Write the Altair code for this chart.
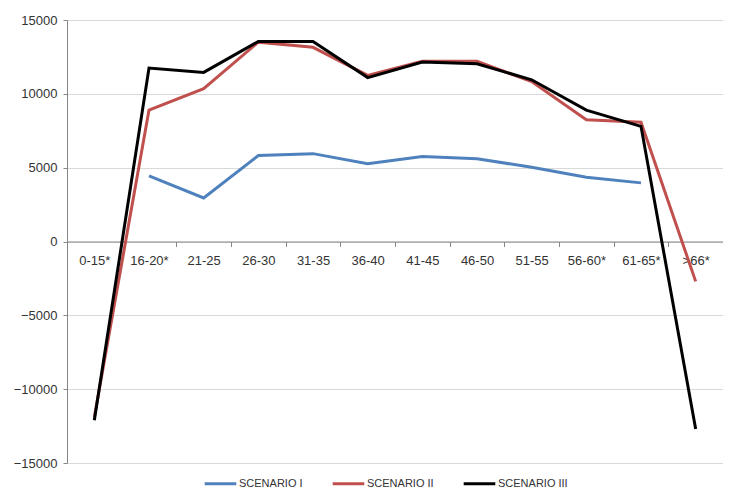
import altair as alt
import pandas as pd

categories = ["0-15*", "16-20*", "21-25", "26-30", "31-35", "36-40", "41-45",
              "46-50", "51-55", "56-60*", "61-65*", ">66*"]
scenario_1 = [None, 4450, 2950, 5820, 5950, 5260, 5750, 5600, 5030, 4350, 3970, None]
scenario_2 = [-11900, 8900, 10350, 13500, 13150, 11250, 12200, 12200, 10830, 8240, 8080, -2700]
scenario_3 = [-12100, 11750, 11450, 13550, 13550, 11100, 12150, 12030, 10950, 8900, 7800, -12700]
series_names = ["SCENARIO I", "SCENARIO II", "SCENARIO III"]
series_colors = ["#4F81BD", "#C0504D", "#000000"]
y_ticks = [-15000, -10000, -5000, 0, 5000, 10000, 15000]

rows = []
for name, vals in zip(series_names, [scenario_1, scenario_2, scenario_3]):
    for c, v in zip(categories, vals):
        if v is not None:
            rows.append({"age": c, "value": v, "series": name})
df = pd.DataFrame(rows)

W, H = 656, 443
font = "Liberation Sans"

chart = alt.Chart(df).mark_line(strokeWidth=3, strokeJoin="miter", strokeCap="butt").encode(
    x=alt.X("age:N", sort=categories, bandPosition=0.5,
            scale=alt.Scale(type="band", domain=categories, paddingInner=0, paddingOuter=0),
            axis=alt.Axis(title=None, labelAngle=0, offset=-H / 2, tickBand="extent",
                          domainColor="#868686", tickColor="#868686", tickSize=5,
                          labelPadding=8, labelFont=font, labelFontSize=13,
                          labelColor="#333333", grid=False, zindex=0)),
    y=alt.Y("value:Q", scale=alt.Scale(domain=[-15000, 15000], nice=False),
            axis=alt.Axis(title=None, values=y_ticks, format="d", domainColor="#868686",
                          tickColor="#868686", tickSize=4, labelPadding=6,
                          gridColor="#D9D9D9", labelFont=font, labelFontSize=13,
                          labelColor="#333333")),
    color=alt.Color("series:N", scale=alt.Scale(domain=series_names, range=series_colors),
                    legend=alt.Legend(title=None, orient="none", direction="horizontal",
                                      legendX=136, legendY=446, symbolType="stroke",
                                      symbolSize=1000, symbolStrokeWidth=3,
                                      labelOffset=1, columnPadding=23, padding=0,
                                      labelFont=font, labelFontSize=11,
                                      labelColor="#333333")),
).properties(
    width=W, height=H,
    autosize=alt.AutoSizeParams(type="none"),
    padding={"left": 59, "top": 12, "right": 0, "bottom": 26},
).configure_view(stroke=None).configure(background="white")

chart.save("out.html", embed_options={"renderer": "svg", "actions": False})
